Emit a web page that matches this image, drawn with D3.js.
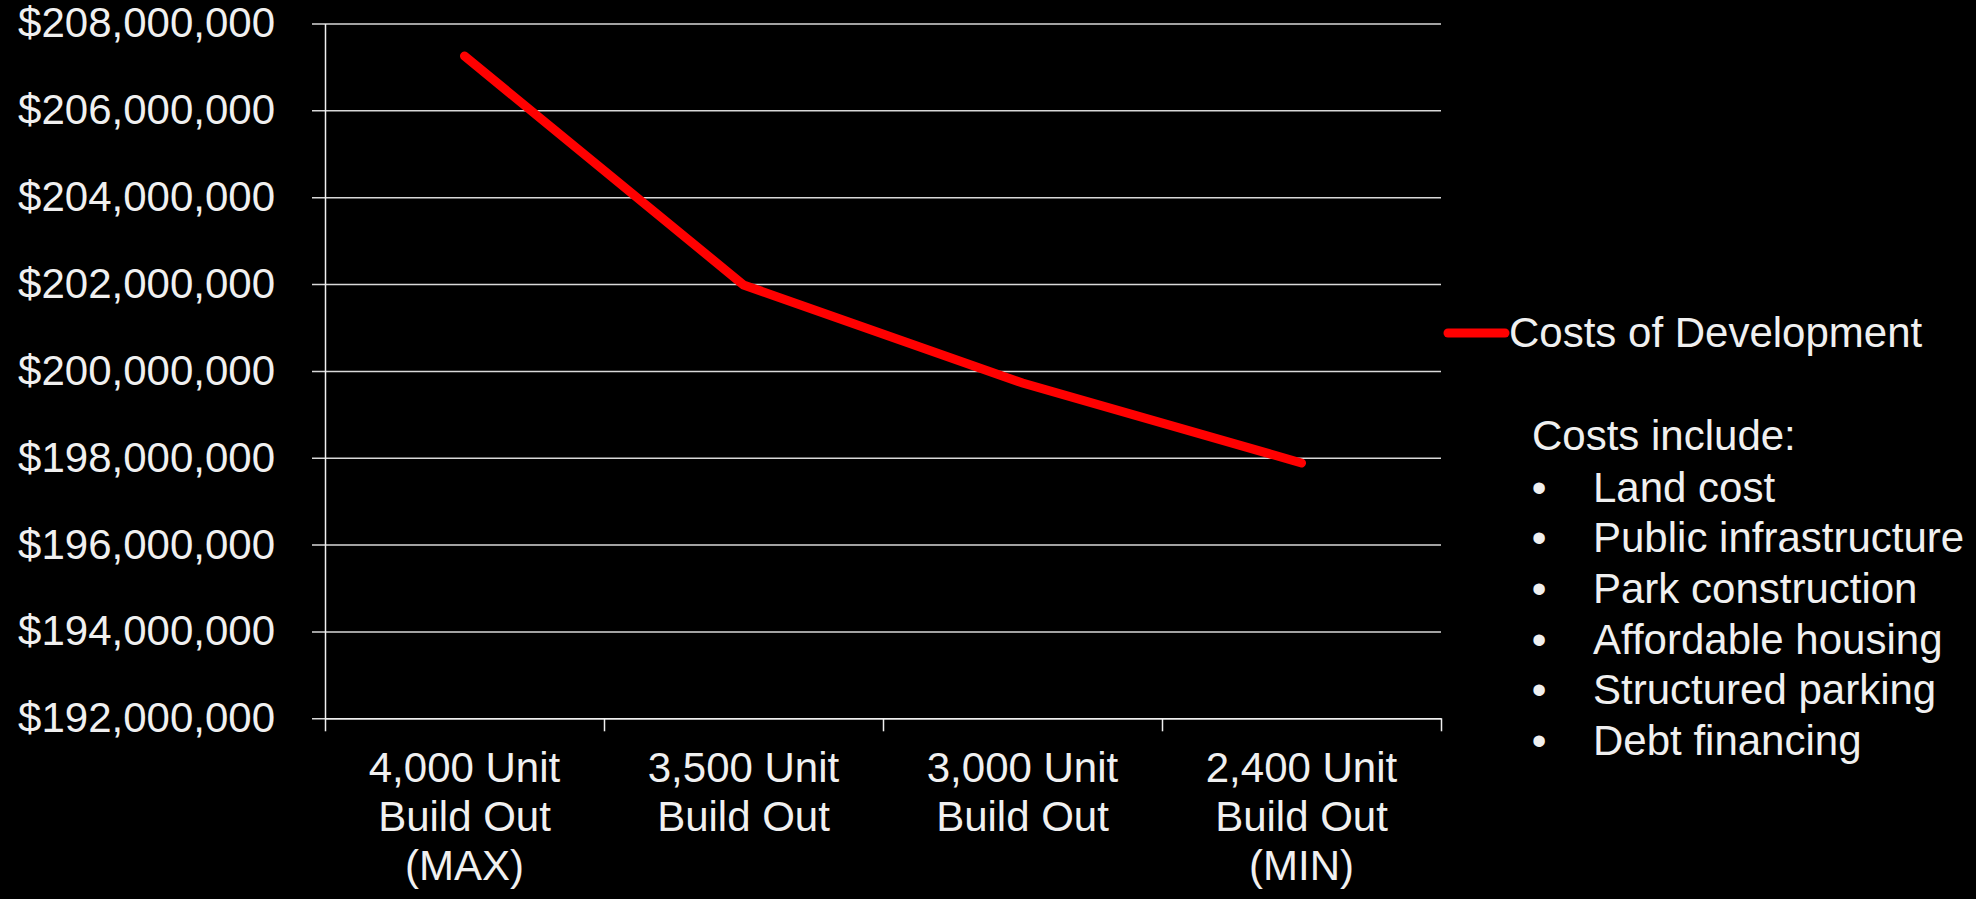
<!DOCTYPE html>
<html>
<head>
<meta charset="utf-8">
<script src="https://cdn.jsdelivr.net/npm/d3@7"></script>
<style>
  html, body { margin: 0; padding: 0; background: #000; }
  svg { display: block; font-family: "Liberation Sans", Arial, sans-serif; }
</style>
</head>
<body>
<div id="chart"></div>
<script>
// data
var categories = ["4,000 Unit\nBuild Out\n(MAX)", "3,500 Unit\nBuild Out", "3,000 Unit\nBuild Out", "2,400 Unit\nBuild Out\n(MIN)"];
var costs = [207250000, 201980000, 199720000, 197880000];
var yTicks = [192000000, 194000000, 196000000, 198000000, 200000000, 202000000, 204000000, 206000000, 208000000];
var seriesName = "Costs of Development";
var noteTitle = "Costs include:";
var noteItems = ["Land cost", "Public infrastructure", "Park construction", "Affordable housing", "Structured parking", "Debt financing"];

// set the dimensions and margins
var margin = {top: 23.5, left: 325},
    width = 1116,
    height = 694.8;

var svg = d3.select("#chart")
  .append("svg")
    .attr("width", 1976)
    .attr("height", 899)
  .append("g")
    .attr("transform", "translate(" + margin.left + "," + margin.top + ")");

var textColor = "#f0f0f0";

// scales
var y = d3.scaleLinear()
  .domain([192000000, 208000000])
  .range([height, 0]);

var x = d3.scaleBand()
  .domain(categories)
  .range([0, width]);

// boundaries between categories, for tick marks
var xb = d3.scaleLinear()
  .domain([0, categories.length])
  .range([0, width]);

// horizontal grid lines (they stick out left of the axis like ticks)
svg.append("g")
  .attr("transform", "translate(-13,0)")
  .call(d3.axisRight(y).tickValues(yTicks).tickSize(width + 13).tickFormat(""))
  .call(function(g) { g.select(".domain").remove(); })
  .selectAll(".tick line")
    .attr("stroke", "#d9d9d9")
    .attr("stroke-width", 1.5);

// Y axis labels + vertical axis line
var yAxis = svg.append("g")
  .call(d3.axisLeft(y).tickValues(yTicks).tickSize(0).tickSizeOuter(0).tickPadding(50)
    .tickFormat(function(d) { return "$" + d3.format(",")(d); }));
yAxis.select(".domain").attr("stroke", "#f0f0f0").attr("stroke-width", 1.5);
yAxis.selectAll("text")
  .attr("fill", textColor)
  .style("font-size", "42px")
  .style("font-family", "'Liberation Sans', Arial, sans-serif");

// X axis tick marks between categories
svg.append("g")
  .attr("transform", "translate(0," + height + ")")
  .call(d3.axisBottom(xb).ticks(categories.length).tickSize(13).tickSizeOuter(0).tickFormat(""))
  .call(function(g) {
    g.select(".domain").attr("stroke", "#f0f0f0").attr("stroke-width", 1.5);
    g.selectAll(".tick line").attr("stroke", "#f0f0f0").attr("stroke-width", 1.5);
  });

// X axis labels (multi line)
var xAxis = svg.append("g")
  .attr("transform", "translate(0," + height + ")")
  .call(d3.axisBottom(x).tickSize(0));
xAxis.select(".domain").remove();
xAxis.selectAll(".tick text")
  .attr("fill", textColor)
  .attr("dy", null)
  .attr("y", null)
  .style("font-size", "42px")
  .style("font-family", "'Liberation Sans', Arial, sans-serif")
  .each(function(d) {
    var t = d3.select(this).text("");
    d.split("\n").forEach(function(line, i) {
      t.append("tspan")
        .attr("x", 0)
        .attr("y", 63.5 + i * 49)
        .text(line);
    });
  });

// the line
var line = d3.line()
  .x(function(d, i) { return x(categories[i]) + x.bandwidth() / 2; })
  .y(function(d) { return y(d); });

svg.append("path")
  .datum(costs)
  .attr("fill", "none")
  .attr("stroke", "#ff0000")
  .attr("stroke-width", 9)
  .attr("stroke-linecap", "round")
  .attr("stroke-linejoin", "miter")
  .attr("d", line);

// legend
var legend = d3.select("#chart svg").append("g");
legend.append("line")
  .attr("x1", 1448).attr("x2", 1505)
  .attr("y1", 333).attr("y2", 333)
  .attr("stroke", "#ff0000")
  .attr("stroke-width", 9)
  .attr("stroke-linecap", "round");
legend.append("text")
  .attr("x", 1509)
  .attr("y", 347)
  .attr("fill", textColor)
  .style("font-size", "42px")
  .text(seriesName);

// notes on the right
var notes = d3.select("#chart svg").append("g");
notes.append("text")
  .attr("x", 1532)
  .attr("y", 450)
  .attr("fill", textColor)
  .style("font-size", "42px")
  .text(noteTitle);

var items = notes.selectAll(".item")
  .data(noteItems)
  .enter()
  .append("g")
    .attr("class", "item")
    .attr("transform", function(d, i) { return "translate(0," + (501.5 + i * 50.7) + ")"; });
items.append("text")
  .attr("x", 1539)
  .attr("text-anchor", "middle")
  .attr("fill", textColor)
  .style("font-size", "42px")
  .text("\u2022");
items.append("text")
  .attr("x", 1593)
  .attr("fill", textColor)
  .style("font-size", "42px")
  .text(function(d) { return d; });
</script>
</body>
</html>
